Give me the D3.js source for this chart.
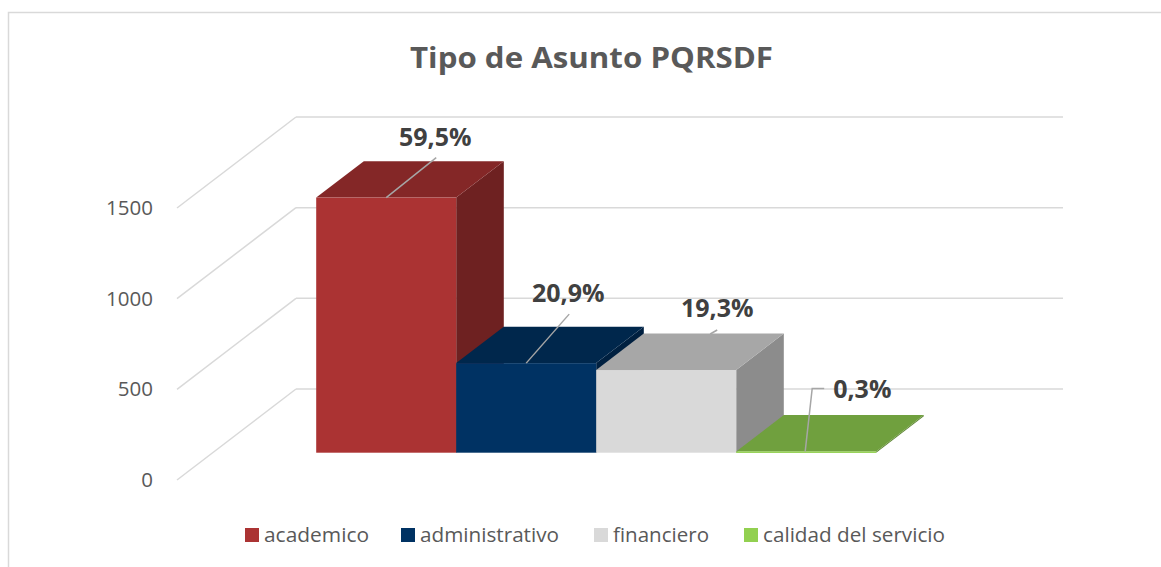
<!DOCTYPE html>
<html>
<head>
<meta charset="utf-8">
<script src="https://cdn.jsdelivr.net/npm/d3@7"></script>
<style>
  html, body { margin: 0; padding: 0; background: #ffffff; }
  svg { display: block; }
</style>
</head>
<body>
<svg id="chart" width="1161" height="567"></svg>
<script>
// ---------- DATA ----------
const categories = ["academico", "administrativo", "financiero", "calidad del servicio"];
const values = [1407, 494, 456, 7];
const percentLabels = ["59,5%", "20,9%", "19,3%", "0,3%"];
const yTicks = [0, 500, 1000, 1500];
const seriesColors = ["#AB3333", "#003263", "#D9D9D9", "#92D050"];
const title = "Tipo de Asunto PQRSDF";

// ---------- LAYOUT ----------
const svg = d3.select("#chart");
const W = 1161, H = 567;
const origin = { x: 177, y: 480 };       // front-left corner of floor
const depth = { x: 119, y: -91 };        // floor depth vector
const floorW = 767;
const barDepthStart = 0.3, barDepthLen = 0.4;
const gridColor = "#D9D9D9";
const textColor = "#595959";
const labelColor = "#404040";

svg.append("rect").attr("width", W).attr("height", H).attr("fill", "#fff");
// chart border
svg.append("rect")
  .attr("x", 8.5).attr("y", 12.5)
  .attr("width", W + 10).attr("height", H + 10)
  .attr("fill", "none").attr("stroke", "#D9D9D9").attr("stroke-width", 1.5);

// vertical scale (front plane)
const y = d3.scaleLinear().domain([0, 1500]).range([origin.y, origin.y - 272]);
const hScale = v => y(0) - y(v);

// gridlines: side wall diagonals and back wall horizontals
const grid = svg.append("g");
yTicks.forEach(t => {
  const yf = y(t);
  grid.append("line")
    .attr("x1", origin.x).attr("y1", yf)
    .attr("x2", origin.x + depth.x).attr("y2", yf + depth.y)
    .attr("stroke", gridColor).attr("stroke-width", 1.5);
  grid.append("line")
    .attr("x1", origin.x + depth.x).attr("y1", yf + depth.y)
    .attr("x2", origin.x + depth.x + floorW).attr("y2", yf + depth.y)
    .attr("stroke", gridColor).attr("stroke-width", 1.5);
});

// y axis labels
const axis = d3.axisLeft(y).tickValues(yTicks).tickSize(0).tickPadding(24).tickFormat(d3.format("d"));
const axG = svg.append("g").attr("transform", `translate(${origin.x},0)`).call(axis);
axG.select(".domain").remove();
axG.selectAll("text")
  .attr("font-family", "'Open Sans', sans-serif")
  .attr("font-size", 20.5)
  .attr("fill", textColor);

// bars
const gap = 103.5;
const xBand = d3.scaleBand().domain(categories).range([gap, floorW - gap]).paddingInner(0).paddingOuter(0);
const fx = origin.x + depth.x * barDepthStart;   // floor left at bar front depth
const fy = origin.y + depth.y * barDepthStart;
const bd = { x: depth.x * barDepthLen, y: depth.y * barDepthLen };

const barsData = categories.map((c, i) => ({ c, v: values[i], color: seriesColors[i], label: percentLabels[i], i }));
const barsG = svg.append("g");
// draw left to right: each bar's right side sits behind the next bar
barsData.forEach(d => {
  const x1 = fx + xBand(d.c), x2 = x1 + xBand.bandwidth();
  const yb = fy, yt = yb - hScale(d.v);
  const base = d3.rgb(d.color);
  const top = d3.rgb(base.r * 0.77, base.g * 0.77, base.b * 0.77);
  const side = d3.rgb(base.r * 0.645, base.g * 0.645, base.b * 0.645);
  const g = barsG.append("g");
  // side face
  g.append("path")
    .attr("d", `M${x2},${yb}L${x2 + bd.x},${yb + bd.y}L${x2 + bd.x},${yt + bd.y}L${x2},${yt}Z`)
    .attr("fill", side);
  // top face
  g.append("path")
    .attr("d", `M${x1},${yt}L${x2},${yt}L${x2 + bd.x},${yt + bd.y}L${x1 + bd.x},${yt + bd.y}Z`)
    .attr("fill", top);
  // front face
  g.append("rect")
    .attr("x", x1).attr("y", yt)
    .attr("width", x2 - x1).attr("height", Math.max(yb - yt, 1.5))
    .attr("fill", base);
  d.mx = (x1 + x2) / 2; d.my = yt;
});

// data labels with leader lines
const labelLayout = [
  { leader: [[0, 0], [50, -40]], lx: 49, ly: -52, anchor: "middle" },
  { leader: [[0, 0], [43, -49]], lx: 42, ly: -61, anchor: "middle" },
  { leader: [[44, -36], [51, -40]], lx: 51, ly: -53, anchor: "middle" },
  { leader: [[-1, 0], [6, -63], [18, -63]], lx: 27, ly: -53, anchor: "start" }
];
const lblG = svg.append("g");
barsData.forEach((d, i) => {
  const L = labelLayout[i];
  lblG.append("path")
    .attr("d", d3.line()(L.leader.map(p => [d.mx + p[0], d.my + p[1]])))
    .attr("fill", "none").attr("stroke", "#A6A6A6").attr("stroke-width", 1.5);
  lblG.append("text")
    .attr("x", d.mx + L.lx).attr("y", d.my + L.ly)
    .attr("text-anchor", L.anchor)
    .attr("font-family", "'Open Sans', sans-serif")
    .attr("font-weight", "bold")
    .attr("font-size", 25)
    .attr("fill", labelColor)
    .text(d.label);
});

// title
svg.append("text")
  .attr("x", 591.5).attr("y", 68)
  .attr("text-anchor", "middle")
  .attr("font-family", "'Open Sans', sans-serif")
  .attr("font-weight", "bold")
  .attr("font-size", 29)
  .attr("fill", textColor)
  .attr("textLength", 363).attr("lengthAdjust", "spacingAndGlyphs")
  .text(title);

// legend
const legendX = [245, 401, 594, 744];
const legendW = [105, 139, 96, 182];
const legG = svg.append("g");
categories.forEach((c, i) => {
  legG.append("rect")
    .attr("x", legendX[i]).attr("y", 528)
    .attr("width", 14).attr("height", 14)
    .attr("fill", seriesColors[i]);
  legG.append("text")
    .attr("x", legendX[i] + 19).attr("y", 542)
    .attr("font-family", "'Open Sans', sans-serif")
    .attr("font-size", 20)
    .attr("fill", textColor)
    .attr("textLength", legendW[i]).attr("lengthAdjust", "spacingAndGlyphs")
    .text(c);
});
</script>
</body>
</html>
